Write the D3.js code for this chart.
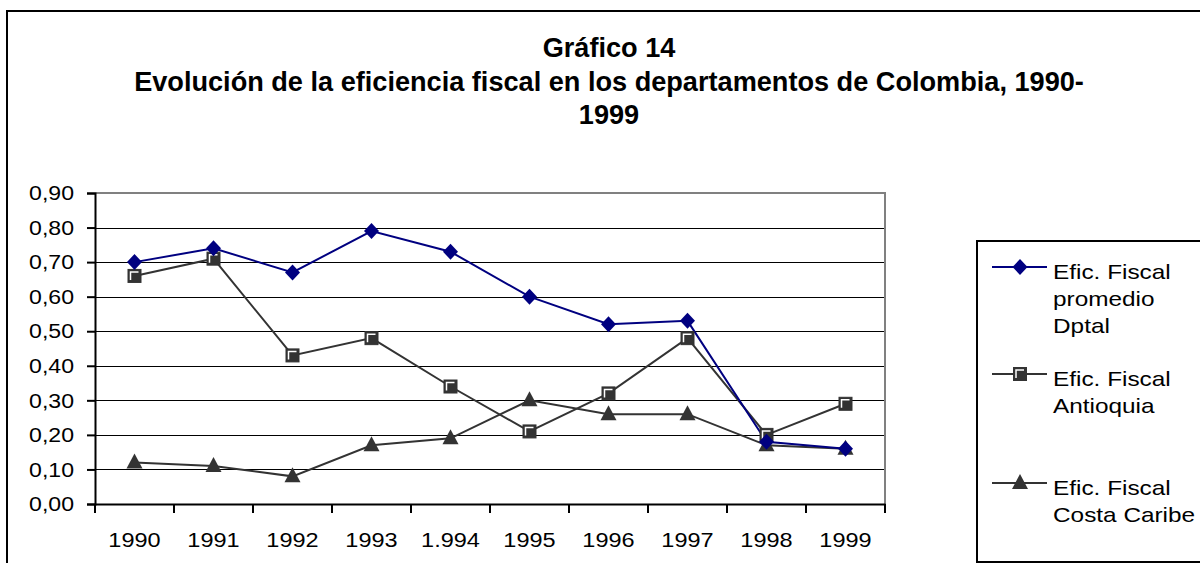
<!DOCTYPE html>
<html>
<head>
<meta charset="utf-8">
<script src="https://cdn.jsdelivr.net/npm/d3@7"></script>
<style>
  html, body { margin: 0; padding: 0; background: #fff; }
  svg { display: block; font-family: "Liberation Sans", Arial, sans-serif; }
</style>
</head>
<body>
<svg id="chart" width="1200" height="563"></svg>
<script>
// ---- Data ----
const years = ["1990","1991","1992","1993","1994","1995","1996","1997","1998","1999"];
const yearLabels = ["1990","1991","1992","1993","1.994","1995","1996","1997","1998","1999"];
const promedio = [0.70, 0.74, 0.67, 0.79, 0.73, 0.60, 0.52, 0.53, 0.18, 0.16];
const antioquia = [0.66, 0.71, 0.43, 0.48, 0.34, 0.21, 0.32, 0.48, 0.20, 0.29];
const costaCaribe = [0.12, 0.11, 0.08, 0.17, 0.19, 0.30, 0.26, 0.26, 0.17, 0.16];
const yTicks = [0, 0.1, 0.2, 0.3, 0.4, 0.5, 0.6, 0.7, 0.8, 0.9];
const titleLines = ["Gráfico 14", "Evolución de la eficiencia fiscal en los departamentos de Colombia, 1990-", "1999"];
const seriesNames = [["Efic. Fiscal", "promedio", "Dptal"], ["Efic. Fiscal", "Antioquia"], ["Efic. Fiscal", "Costa Caribe"]];

const svg = d3.select("#chart");
const W = 1200, H = 563;
const plot = {left: 95, right: 885, top: 193, bottom: 504};

// outer frame
svg.append("rect").attr("x", 7).attr("y", 11).attr("width", W).attr("height", H)
  .attr("fill", "#fff").attr("stroke", "#000").attr("stroke-width", 2);

// title
const cx = 609;
const titleY = [57, 91, 124];
const t = svg.append("g").attr("font-weight", "bold").attr("fill", "#000");
titleLines.forEach((s, i) => {
  t.append("text").attr("x", cx).attr("y", titleY[i]).attr("text-anchor", "middle")
    .attr("font-size", 22).text(s);
});
const l2 = t.selectAll("text").nodes()[1];
const w2 = l2.getComputedTextLength();
t.selectAll("text").attr("font-size", 22 * 950 / w2);

const x = d3.scaleBand().domain(years).range([plot.left, plot.right]);
const y = d3.scaleLinear().domain([0, 0.9]).range([plot.bottom, plot.top]);
const fmt = d3.formatLocale({decimal: ",", thousands: "."}).format(".2f");

// gridlines
svg.append("g").selectAll("line").data(yTicks.filter(v => v > 0 && v < 0.9)).join("line")
  .attr("x1", plot.left).attr("x2", plot.right)
  .attr("y1", d => Math.round(y(d)) + 0.5).attr("y2", d => Math.round(y(d)) + 0.5)
  .attr("stroke", "#000").attr("stroke-width", 1);

// plot area gray top/right border
svg.append("path")
  .attr("d", `M${plot.left},${plot.top}H${plot.right}V${plot.bottom}`)
  .attr("fill", "none").attr("stroke", "#808080").attr("stroke-width", 2);

// y axis
const yAxis = svg.append("g").attr("transform", `translate(${plot.left},0)`)
  .call(d3.axisLeft(y).tickValues(yTicks).tickFormat(fmt).tickSize(8).tickPadding(13));
yAxis.select(".domain").attr("stroke", "#000").attr("stroke-width", 2);
yAxis.selectAll(".tick line").attr("stroke", "#000").attr("stroke-width", 2);
yAxis.selectAll(".tick text").attr("font-size", 21).attr("fill", "#000")
  .attr("font-family", "'Liberation Sans', Arial, sans-serif")
  .attr("transform", "translate(-21,0) scale(1.1,1) translate(21,0)");

// x axis
const xAxis = svg.append("g").attr("transform", `translate(0,${plot.bottom})`)
  .call(d3.axisBottom(x).tickFormat((d, i) => yearLabels[i]).tickSize(0).tickPadding(28));
xAxis.select(".domain").attr("stroke", "#000").attr("stroke-width", 2);
xAxis.selectAll(".tick text").attr("font-size", 21).attr("fill", "#000")
  .attr("font-family", "'Liberation Sans', Arial, sans-serif")
  .attr("transform", "scale(1.12,1)");
const bounds = years.map(d => x(d)).concat([plot.right]);
xAxis.append("g").selectAll("line").data(bounds).join("line")
  .attr("x1", d => d).attr("x2", d => d).attr("y1", 0).attr("y2", 9)
  .attr("stroke", "#000").attr("stroke-width", 2);

const cxp = d => x(d) + x.bandwidth() / 2;
const line = d3.line().x((v, i) => cxp(years[i])).y(v => y(v));

// markers
function diamond(g, px, py) {
  g.append("path").attr("d", `M${px},${py-8}L${px+7.5},${py}L${px},${py+8}L${px-7.5},${py}Z`)
    .attr("fill", "#000080");
}
function square(g, px, py) {
  g.append("rect").attr("x", px - 6.5).attr("y", py - 6.5).attr("width", 13).attr("height", 13)
    .attr("fill", "#333").attr("stroke", "#333").attr("stroke-width", 1);
  g.append("path").attr("d", `M${px-4},${py+4}V${py-4}H${px+4}`)
    .attr("fill", "none").attr("stroke", "#fff").attr("stroke-width", 1.5);
}
function triangle(g, px, py) {
  g.append("path").attr("d", `M${px},${py-9}L${px+8},${py+6}L${px-8},${py+6}Z`)
    .attr("fill", "#333");
}

const series = [
  {vals: promedio, color: "#000080", marker: diamond},
  {vals: antioquia, color: "#333", marker: square},
  {vals: costaCaribe, color: "#333", marker: triangle}
];

[2, 1, 0].forEach(k => {
  const s = series[k];
  svg.append("path").attr("d", line(s.vals)).attr("fill", "none")
    .attr("stroke", s.color).attr("stroke-width", 2);
});
[2, 1, 0].forEach(k => {
  const s = series[k];
  const g = svg.append("g");
  s.vals.forEach((v, i) => s.marker(g, cxp(years[i]), y(v)));
});

// legend
svg.append("rect").attr("x", 977).attr("y", 241).attr("width", 240).attr("height", 321)
  .attr("fill", "#fff").attr("stroke", "#000").attr("stroke-width", 2);
const legY = [267, 374, 483];
series.forEach((s, k) => {
  const g = svg.append("g");
  g.append("line").attr("x1", 992).attr("x2", 1047).attr("y1", legY[k]).attr("y2", legY[k])
    .attr("stroke", s.color).attr("stroke-width", 2);
  s.marker(g, 1020, legY[k]);
  seriesNames[k].forEach((txt, j) => {
    g.append("text").attr("x", 0).attr("y", 0)
      .attr("transform", `translate(1053,${legY[k] + 12 + j * 27}) scale(1.16,1)`)
      .attr("font-size", 21).attr("fill", "#000").text(txt);
  });
});
</script>
</body>
</html>
